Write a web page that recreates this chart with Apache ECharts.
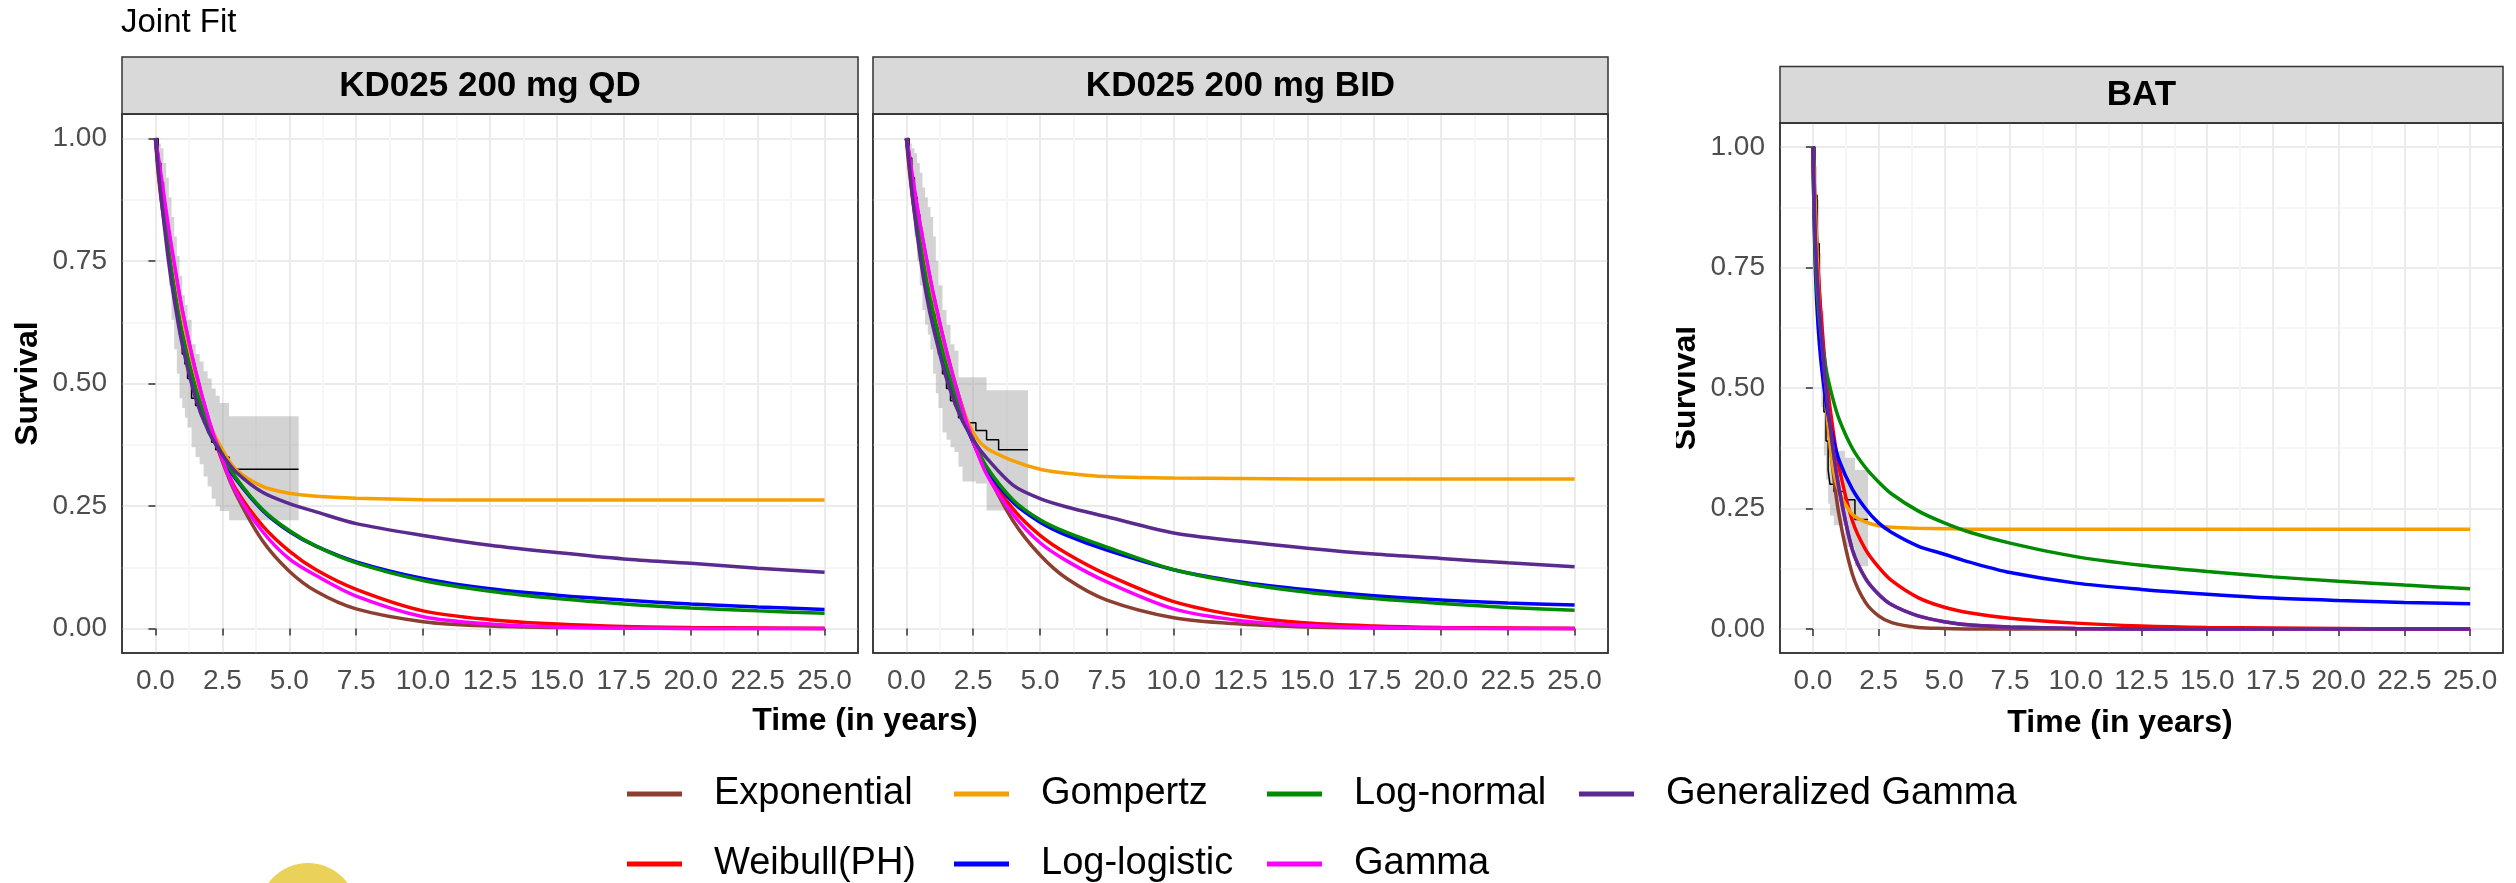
<!DOCTYPE html>
<html>
<head>
<meta charset="utf-8">
<title>Joint Fit</title>
<script src="https://cdn.jsdelivr.net/npm/echarts@6/dist/echarts.min.js"></script>
<style>
  html, body { margin: 0; padding: 0; background: #fff; }
  #main { width: 2516px; height: 883px; }
</style>
</head>
<body>
<div id="main"></div>
<script>
const fitTimes = [0, 0.1, 0.25, 0.5, 0.75, 1, 1.5, 2, 2.5, 3, 4, 5, 6, 7.5, 10, 12.5, 15, 17.5, 20, 22.5, 25];

// tick labels
const timeTicks = [0, 2.5, 5, 7.5, 10, 12.5, 15, 17.5, 20, 22.5, 25];
const survivalTicks = [0, 0.25, 0.5, 0.75, 1];

const panelTitles = ['KD025 200 mg QD', 'KD025 200 mg BID', 'BAT'];
const modelNames = ['Exponential', 'Weibull(PH)', 'Gompertz', 'Log-logistic', 'Log-normal', 'Gamma', 'Generalized Gamma'];

// KD025 200 mg QD - fitted survival
const qdExponential = [1, 0.958, 0.898, 0.806, 0.724, 0.65, 0.525, 0.423, 0.341, 0.275, 0.179, 0.117, 0.076, 0.04, 0.014, 0.005, 0.002, 0.001, 0, 0, 0];
const qdWeibull = [1, 0.93, 0.86, 0.77, 0.69, 0.62, 0.505, 0.415, 0.345, 0.285, 0.21, 0.158, 0.12, 0.08, 0.036, 0.018, 0.009, 0.004, 0.002, 0.001, 0];
const qdGompertz = [1, 0.955, 0.89, 0.795, 0.705, 0.63, 0.51, 0.42, 0.365, 0.325, 0.29, 0.276, 0.27, 0.266, 0.263, 0.262, 0.262, 0.262, 0.262, 0.262, 0.262];
const qdLogLogistic = [1, 0.952, 0.876, 0.765, 0.674, 0.6, 0.488, 0.408, 0.35, 0.305, 0.241, 0.198, 0.168, 0.136, 0.102, 0.081, 0.068, 0.058, 0.05, 0.044, 0.039];
const qdLogNormal = [1, 0.96, 0.88, 0.765, 0.675, 0.6, 0.49, 0.412, 0.355, 0.308, 0.243, 0.2, 0.168, 0.134, 0.098, 0.076, 0.061, 0.05, 0.042, 0.036, 0.031];
const qdGamma = [1, 0.965, 0.91, 0.815, 0.73, 0.65, 0.525, 0.425, 0.345, 0.28, 0.198, 0.142, 0.108, 0.066, 0.024, 0.009, 0.003, 0.001, 0, 0, 0];
const qdGenGamma = [1, 0.94, 0.86, 0.745, 0.655, 0.58, 0.47, 0.4, 0.355, 0.32, 0.278, 0.255, 0.238, 0.214, 0.19, 0.17, 0.155, 0.142, 0.133, 0.123, 0.115];

// KD025 200 mg QD - Kaplan-Meier with confidence band
const qdKmTimes = [0, 0.1, 0.2, 0.3, 0.4, 0.5, 0.6, 0.7, 0.8, 0.9, 1.0, 1.1, 1.2, 1.35, 1.5, 1.65, 1.8, 1.95, 2.1, 2.25, 2.4, 2.75, 5.35];
const qdKm = [1, 0.95, 0.91, 0.86, 0.82, 0.78, 0.73, 0.69, 0.65, 0.6, 0.56, 0.54, 0.51, 0.47, 0.455, 0.44, 0.42, 0.4, 0.38, 0.365, 0.35, 0.325, 0.325];
const qdKmLower = [1, 0.93, 0.88, 0.82, 0.76, 0.7, 0.63, 0.57, 0.52, 0.47, 0.45, 0.43, 0.41, 0.37, 0.35, 0.335, 0.31, 0.29, 0.265, 0.25, 0.24, 0.221, 0.221];
const qdKmUpper = [1, 0.99, 0.98, 0.95, 0.92, 0.88, 0.84, 0.8, 0.76, 0.72, 0.68, 0.66, 0.63, 0.58, 0.56, 0.545, 0.525, 0.51, 0.49, 0.475, 0.46, 0.433, 0.433];

// KD025 200 mg BID - fitted survival
const bidExponential = [1, 0.963, 0.909, 0.827, 0.752, 0.684, 0.566, 0.468, 0.387, 0.32, 0.219, 0.15, 0.102, 0.058, 0.022, 0.009, 0.003, 0.001, 0, 0, 0];
const bidWeibull = [1, 0.94, 0.87, 0.78, 0.7, 0.64, 0.535, 0.45, 0.38, 0.32, 0.243, 0.19, 0.153, 0.11, 0.055, 0.026, 0.011, 0.005, 0.002, 0.001, 0];
const bidGompertz = [1, 0.962, 0.905, 0.82, 0.745, 0.678, 0.56, 0.465, 0.4, 0.368, 0.342, 0.325, 0.317, 0.31, 0.307, 0.306, 0.305, 0.305, 0.305, 0.305, 0.305];
const bidLogLogistic = [1, 0.96, 0.885, 0.785, 0.705, 0.64, 0.53, 0.445, 0.38, 0.325, 0.257, 0.217, 0.19, 0.16, 0.12, 0.095, 0.079, 0.067, 0.058, 0.052, 0.048];
const bidLogNormal = [1, 0.965, 0.89, 0.79, 0.71, 0.645, 0.535, 0.45, 0.385, 0.33, 0.262, 0.222, 0.196, 0.166, 0.12, 0.093, 0.074, 0.061, 0.051, 0.043, 0.037];
const bidGamma = [1, 0.97, 0.915, 0.83, 0.755, 0.685, 0.565, 0.465, 0.382, 0.315, 0.232, 0.175, 0.138, 0.095, 0.04, 0.016, 0.006, 0.002, 0.001, 0, 0];
const bidGenGamma = [1, 0.95, 0.87, 0.765, 0.68, 0.615, 0.51, 0.435, 0.385, 0.348, 0.292, 0.265, 0.248, 0.228, 0.195, 0.178, 0.164, 0.152, 0.143, 0.134, 0.126];

// KD025 200 mg BID - Kaplan-Meier with confidence band
const bidKmTimes = [0, 0.1, 0.2, 0.3, 0.4, 0.5, 0.6, 0.7, 0.8, 0.9, 1.0, 1.1, 1.2, 1.35, 1.5, 1.65, 1.8, 1.95, 2.1, 2.6, 3.0, 3.45, 4.55];
const bidKm = [1, 0.96, 0.92, 0.88, 0.845, 0.81, 0.78, 0.75, 0.72, 0.69, 0.66, 0.62, 0.56, 0.52, 0.49, 0.465, 0.455, 0.43, 0.42, 0.404, 0.385, 0.365, 0.365];
const bidKmLower = [1, 0.93, 0.87, 0.8, 0.75, 0.7, 0.65, 0.62, 0.6, 0.57, 0.52, 0.48, 0.45, 0.4, 0.385, 0.37, 0.36, 0.33, 0.3, 0.296, 0.241, 0.241, 0.241];
const bidKmUpper = [1, 0.99, 0.98, 0.97, 0.95, 0.93, 0.9, 0.88, 0.86, 0.84, 0.8, 0.75, 0.7, 0.65, 0.62, 0.58, 0.567, 0.513, 0.513, 0.513, 0.486, 0.486, 0.486];

// BAT - fitted survival (Gamma sits under Generalized Gamma)
const batExponential = [1, 0.865, 0.695, 0.485, 0.337, 0.235, 0.114, 0.055, 0.027, 0.013, 0.003, 0.001, 0, 0, 0, 0, 0, 0, 0, 0, 0];
const batWeibull = [1, 0.84, 0.7, 0.53, 0.42, 0.335, 0.225, 0.165, 0.128, 0.1, 0.065, 0.045, 0.033, 0.022, 0.012, 0.006, 0.003, 0.002, 0.001, 0, 0];
const batGompertz = [1, 0.86, 0.66, 0.47, 0.34, 0.285, 0.238, 0.222, 0.214, 0.211, 0.209, 0.208, 0.207, 0.207, 0.207, 0.207, 0.207, 0.207, 0.207, 0.207, 0.207];
const batLogLogistic = [1, 0.74, 0.59, 0.47, 0.4, 0.35, 0.29, 0.25, 0.22, 0.2, 0.172, 0.155, 0.138, 0.117, 0.095, 0.082, 0.072, 0.064, 0.059, 0.055, 0.052];
const batLogNormal = [1, 0.76, 0.64, 0.54, 0.48, 0.435, 0.375, 0.335, 0.305, 0.28, 0.245, 0.22, 0.2, 0.178, 0.15, 0.132, 0.119, 0.108, 0.099, 0.091, 0.0835];
const batGamma = [1, 0.8, 0.66, 0.5, 0.38, 0.29, 0.165, 0.105, 0.072, 0.05, 0.027, 0.015, 0.008, 0.004, 0.001, 0, 0, 0, 0, 0, 0];
const batGenGamma = [1, 0.8, 0.66, 0.5, 0.38, 0.29, 0.165, 0.105, 0.072, 0.05, 0.027, 0.015, 0.008, 0.004, 0.001, 0, 0, 0, 0, 0, 0];

// BAT - Kaplan-Meier with confidence band
const batKmTimes = [0, 0.08, 0.16, 0.24, 0.32, 0.42, 0.5, 0.58, 0.65, 0.8, 1.22, 1.6, 2.1];
const batKm = [1, 0.9, 0.8, 0.68, 0.56, 0.45, 0.39, 0.33, 0.3, 0.285, 0.268, 0.227, 0.227];
const batKmLower = [1, 0.83, 0.71, 0.58, 0.46, 0.36, 0.31, 0.26, 0.235, 0.215, 0.17, 0.13, 0.13];
const batKmUpper = [1, 0.96, 0.89, 0.78, 0.66, 0.55, 0.48, 0.43, 0.39, 0.37, 0.355, 0.33, 0.33];

// ---- styling / layout ----
const FONT = '"Liberation Sans", Arial, Helvetica, sans-serif';
const modelColors = ['#8C3F30', '#FF0000', '#F5A000', '#0000FF', '#008B00', '#FF00FF', '#5B2A8E'];

const panelFits = [
  [qdExponential, qdWeibull, qdGompertz, qdLogLogistic, qdLogNormal, qdGamma, qdGenGamma],
  [bidExponential, bidWeibull, bidGompertz, bidLogLogistic, bidLogNormal, bidGamma, bidGenGamma],
  [batExponential, batWeibull, batGompertz, batLogLogistic, batLogNormal, batGamma, batGenGamma]
];
const panelKm = [
  [qdKmTimes, qdKm, qdKmLower, qdKmUpper],
  [bidKmTimes, bidKm, bidKmLower, bidKmUpper],
  [batKmTimes, batKm, batKmLower, batKmUpper]
];

const grids = [
  { left: 122, top: 114, width: 736, height: 539 },
  { left: 873, top: 114, width: 735, height: 539 },
  { left: 1780, top: 123, width: 723, height: 530 }
];
const strips = [
  { x: 122, y: 57, w: 736, h: 57 },
  { x: 873, y: 57, w: 735, h: 57 },
  { x: 1780, y: 66.5, w: 723, h: 56.5 }
];

// minor grid lines sit half way between the labelled ticks
const minorTimes = timeTicks.slice(1).map((v, i) => (v + timeTicks[i]) / 2);
const minorSurvival = survivalTicks.slice(1).map((v, i) => (v + survivalTicks[i]) / 2);

const pts = (xs, ys) => xs.map((x, i) => [x, ys[i]]);

const tickStyle = { length: 7, lineStyle: { color: '#333333', width: 1.5 } };
const labelStyle = { color: '#4D4D4D', fontSize: 28, fontFamily: FONT };

// axes 0..2: main axes (ticks, labels, major grid); 3..5: minor grid only
const xAxes = [];
const yAxes = [];
[0, 1].forEach(layer => {
  grids.forEach((g, i) => {
    const major = layer === 0;
    xAxes.push({
      type: 'value', gridIndex: i, min: -1.25, max: 26.25,
      axisLine: { show: false },
      axisTick: Object.assign({ show: major, customValues: major ? timeTicks : minorTimes }, tickStyle),
      axisLabel: Object.assign({
        show: major, customValues: timeTicks, margin: 14, formatter: v => v.toFixed(1)
      }, labelStyle),
      splitLine: { show: true, lineStyle: { color: major ? '#EBEBEB' : '#F6F6F6', width: 2 } }
    });
    const labelled = major && i !== 1;
    yAxes.push({
      type: 'value', gridIndex: i, min: -0.05, max: 1.05,
      axisLine: { show: false },
      axisTick: Object.assign({ show: labelled, customValues: major ? survivalTicks : minorSurvival }, tickStyle),
      axisLabel: Object.assign({
        show: labelled, customValues: survivalTicks, margin: 15, formatter: v => v.toFixed(2)
      }, labelStyle),
      splitLine: { show: true, lineStyle: { color: major ? '#EBEBEB' : '#F6F6F6', width: 2 } },
      name: labelled ? 'Survival' : '',
      nameLocation: 'middle', nameGap: 78,
      nameTextStyle: { color: '#000', fontWeight: 'bold', fontSize: 32, fontFamily: FONT }
    });
  });
});

// stepped confidence band drawn as one polygon through the axes
function bandItem(times, lower, upper) {
  return function (params, api) {
    if (params.dataIndex !== 0) return;
    const top = [];
    const bottom = [];
    for (let i = 0; i < times.length; i++) {
      const tNext = i < times.length - 1 ? times[i + 1] : times[i];
      top.push(api.coord([times[i], upper[i]]), api.coord([tNext, upper[i]]));
      bottom.push(api.coord([times[i], lower[i]]), api.coord([tNext, lower[i]]));
    }
    return {
      type: 'polygon',
      shape: { points: top.concat(bottom.reverse()) },
      style: { fill: 'rgba(150,150,150,0.42)' }
    };
  };
}

const series = [];
panelKm.forEach((km, p) => {
  const [times, surv, lower, upper] = km;
  series.push({
    type: 'custom', xAxisIndex: p, yAxisIndex: p, silent: true, z: 1, clip: true,
    data: times.map((t, i) => [t, lower[i], upper[i]]),
    encode: { x: 0, y: [1, 2] },
    renderItem: bandItem(times, lower, upper)
  });
  series.push({
    type: 'line', xAxisIndex: p, yAxisIndex: p, step: 'end',
    data: pts(times, surv), symbol: 'none', silent: true, z: 2,
    lineStyle: { color: '#000', width: 1.5 }
  });
  panelFits[p].forEach((vals, m) => {
    series.push({
      name: modelNames[m], type: 'line', xAxisIndex: p, yAxisIndex: p,
      data: pts(fitTimes, vals), smooth: 0.3, symbol: 'none', z: 3 + m,
      color: modelColors[m],
      lineStyle: { color: modelColors[m], width: 3.5 }
    });
  });
});

const legendColumns = [
  ['Exponential', 'Weibull(PH)'],
  ['Gompertz', 'Log-logistic'],
  ['Log-normal', 'Gamma'],
  ['Generalized Gamma']
];
const legendLefts = [627, 954, 1267, 1579];
const legends = legendColumns.map((names, i) => ({
  data: names, left: legendLefts[i], top: 775, orient: 'vertical', padding: 0,
  itemGap: 32, itemWidth: 55, itemHeight: 5, icon: 'rect', selectedMode: false,
  textStyle: { fontSize: 38, lineHeight: 38, color: '#000', fontFamily: FONT, padding: [0, 0, 0, 27] }
}));

const textEl = (text, x, y, size, bold, align) => ({
  type: 'text', silent: true, z: 100,
  style: {
    text, x, y, fill: '#000',
    font: (bold ? 'bold ' : '') + size + 'px ' + FONT,
    align: align, textAlign: align, verticalAlign: 'middle', textVerticalAlign: 'middle'
  }
});

const graphics = [];
strips.forEach((s, i) => {
  graphics.push({
    type: 'rect', silent: true, z: 90,
    shape: { x: s.x, y: s.y, width: s.w, height: s.h },
    style: { fill: '#D9D9D9', stroke: '#333333', lineWidth: 1.5 }
  });
  graphics.push(textEl(panelTitles[i], s.x + s.w / 2, s.y + s.h / 2 + 1, 35, true, 'center'));
});
// panel borders on top of the grid lines
grids.forEach(g => {
  graphics.push({
    type: 'rect', silent: true, z: 90,
    shape: { x: g.left, y: g.top, width: g.width, height: g.height },
    style: { fill: 'none', stroke: '#333333', lineWidth: 1.5 }
  });
});
graphics.push(textEl('Joint Fit', 121, 23, 33, false, 'left'));
graphics.push(textEl('Time (in years)', 865, 721, 32, true, 'center'));
graphics.push(textEl('Time (in years)', 2120, 723, 32, true, 'center'));
// the right-hand panel's axis title is trimmed on its left edge in the source
graphics.push({
  type: 'rect', silent: true, z: 100,
  shape: { x: 1640, y: 300, width: 36, height: 180 },
  style: { fill: '#fff' }
});
// yellow blob at the bottom edge
graphics.push({
  type: 'circle', silent: true, z: 100,
  shape: { cx: 308, cy: 912, r: 49 },
  style: { fill: '#E9D15A' }
});

const chart = echarts.init(document.getElementById('main'), null, { renderer: 'canvas' });
chart.setOption({
  animation: false,
  backgroundColor: '#fff',
  grid: grids.map(g => Object.assign({
    show: true, backgroundColor: '#fff', borderColor: '#333333', borderWidth: 1.5, containLabel: false
  }, g)),
  xAxis: xAxes,
  yAxis: yAxes,
  legend: legends,
  series: series,
  graphic: graphics
});
</script>
</body>
</html>
